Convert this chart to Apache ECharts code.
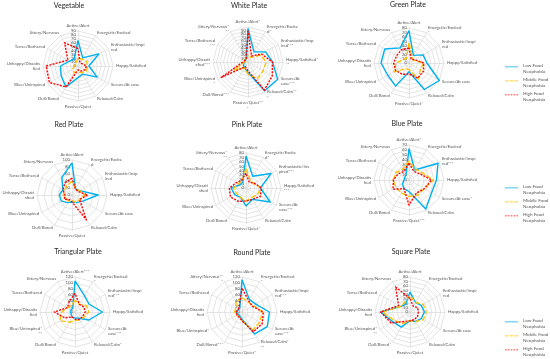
<!DOCTYPE html>
<html><head><meta charset="utf-8">
<script src="https://cdn.jsdelivr.net/npm/echarts@6/dist/echarts.min.js"></script>
<style>html,body{margin:0;padding:0;background:#fff}#c{width:550px;height:359px}</style>
</head><body><div id="c"></div><script>
const seriesNames = ['Low Food Neophobia', 'Middle Food Neophobia', 'High Food Neophobia'];
const chartTitles = ['Vegetable', 'White Plate', 'Green Plate', 'Red Plate', 'Pink Plate', 'Blue Plate', 'Triangular Plate', 'Round Plate', 'Square Plate'];
const axisMax = [90, 100, 80, 100, 80, 70, 120, 120, 80];
const axisStep = [10, 10, 10, 20, 10, 10, 20, 20, 10];

const vegetableAxes = ['Active/Alert', 'Energetic/Excited', 'Enthusiastic/Inspi\nred', 'Happy/Satisfied', 'Secure/At ease', 'Relaxed/Calm', 'Passive/Quiet', 'Dull/Bored', 'Blue/Uninspired', 'Unhappy/Dissatis\nfied', 'Tense/Bothered', 'Jittery/Nervous'];
const whiteAxes = ['Active/Alert*', 'Energetic/Excite\nd*', 'Enthusiastic/Insp\nired***', 'Happy/Satisfied*\n**', 'Secure/At\nease***', 'Relaxed/Calm**\n*', 'Passive/Quiet**\n*', 'Dull/Bored***', 'Blue/Uninspired\n*', 'Unhappy/Dissati\nsfied***', 'Tense/Bothered\n***', 'Jittery/Nervous*\n**'];
const greenAxes = ['Active/Alert', 'Energetic/Excited\n*', 'Enthusiastic/Inspi\nred', 'Happy/Satisfied', 'Secure/At ease', 'Relaxed/Calm', 'Passive/Quiet*', 'Dull/Bored', 'Blue/Uninspired', 'Unhappy/Dissatis\nfied', 'Tense/Bothered', 'Jittery/Nervous'];
const redAxes = ['Active/Alert', 'Energetic/Excite\nd', 'Enthusiastic/Insp\nired', 'Happy/Satisfied', 'Secure/At ease', 'Relaxed/Calm', 'Passive/Quiet', 'Dull/Bored', 'Blue/Uninspired', 'Unhappy/Dissati\nsfied', 'Tense/Bothered', 'Jittery/Nervous'];
const pinkAxes = ['Active/Alert', 'Energetic/Excite\nd*', 'Enthusiastic/Ins\npired***', 'Happy/Satisfied\n***', 'Secure/At\nease***', 'Relaxed/Calm', 'Passive/Quiet*', 'Dull/Bored', 'Blue/Uninspired', 'Unhappy/Dissati\nsfied', 'Tense/Bothered', 'Jittery/Nervous*\n**'];
const blueAxes = ['Active/Alert*', 'Energetic/Excited', 'Enthusiastic/Inspi\nred***', 'Happy/Satisfied', 'Secure/At ease*', 'Relaxed/Calm', 'Passive/Quiet***', 'Dull/Bored', 'Blue/Uninspired', 'Unhappy/Dissatis\nfied', 'Tense/Bothered', 'Jittery/Nervous'];
const triangularAxes = ['Active/Alert***', 'Energetic/Excited\n*', 'Enthusiastic/Inspi\nred***', 'Happy/Satisfied', 'Secure/At\nease***', 'Relaxed/Calm*', 'Passive/Quiet', 'Dull/Bored', 'Blue/Uninspired*\n**', 'Unhappy/Dissatis\nfied', 'Tense/Bothered', 'Jittery/Nervous'];
const roundAxes = ['Active/Alert', 'Energetic/Excited\n*', 'Enthusiastic/Inspi\nred***', 'Happy/Satisfied', 'Secure/At\nease***', 'Relaxed/Calm*\n**', 'Passive/Quiet*', 'Dull/Bored***', 'Blue/Uninspired*', 'Unhappy/Dissatis\nfied', 'Tense/Bothered', 'Jittery/Nervous**\n*'];
const squareAxes = ['Active/Alert', 'Energetic/Excited', 'Enthusiastic/Inspi\nred', 'Happy/Satisfied', 'Secure/At ease', 'Relaxed/Calm', 'Passive/Quiet', 'Dull/Bored*', 'Blue/Uninspired*\n**', 'Unhappy/Dissatis\nfied', 'Tense/Bothered', 'Jittery/Nervous'];

// values in clockwise axis order: Active, Energetic, Enthusiastic, Happy, Secure, Relaxed, Passive, Dull, Blue, Unhappy, Tense, Jittery
const vegetableLow = [66, 24, 62, 28, 57, 24, 30, 62, 50, 45, 25, 20];
const vegetableMiddle = [20, 20, 25, 25, 25, 20, 15, 20, 15, 10, 8, 10];
const vegetableHigh = [45, 10, 12, 22, 20, 15, 10, 62, 85, 82, 30, 69];
const whiteLow = [96, 34, 58, 70, 98, 95, 30, 20, 15, 10, 8, 10];
const whiteMiddle = [20, 15, 40, 52, 50, 55, 35, 20, 45, 10, 5, 10];
const whiteHigh = [90, 20, 45, 70, 80, 93, 25, 15, 88, 15, 10, 10];
const greenLow = [74, 20, 37, 41, 80, 70, 20, 61, 56, 64, 64, 40];
const greenMiddle = [46, 15, 12, 34, 30, 42, 15, 15, 40, 30, 15, 12];
const greenHigh = [34, 10, 15, 34, 38, 40, 25, 30, 35, 35, 33, 35];
const redLow = [92, 20, 25, 75, 35, 25, 20, 25, 35, 36, 30, 58];
const redMiddle = [40, 20, 25, 37, 25, 25, 15, 20, 20, 25, 25, 30];
const redHigh = [48, 20, 20, 45, 25, 82, 20, 15, 25, 20, 30, 40];
const pinkLow = [73, 31, 66, 33, 64, 30, 41, 25, 30, 34, 15, 15];
const pinkMiddle = [45, 20, 20, 35, 30, 25, 30, 25, 25, 28, 20, 18];
const pinkHigh = [34, 15, 22, 35, 38, 30, 30, 35, 41, 38, 25, 20];
const blueLow = [63, 23, 67, 55, 52, 67, 23, 20, 15, 10, 10, 12];
const blueMiddle = [38, 25, 30, 49, 35, 35, 33, 30, 30, 32, 30, 25];
const blueHigh = [33, 20, 25, 45, 35, 30, 50, 20, 37, 31, 25, 20];
const triangularLow = [107, 65, 55, 94, 55, 25, 20, 20, 15, 15, 15, 15];
const triangularMiddle = [40, 30, 45, 48, 35, 30, 30, 40, 60, 45, 30, 25];
const triangularHigh = [64, 30, 35, 35, 30, 30, 25, 20, 40, 71, 30, 40];
const roundLow = [111, 50, 54, 94, 100, 87, 25, 15, 15, 20, 15, 15];
const roundMiddle = [50, 40, 45, 70, 70, 72, 30, 20, 20, 25, 25, 40];
const roundHigh = [82, 45, 40, 73, 80, 78, 30, 20, 20, 20, 15, 20];
const squareLow = [46, 25, 30, 33, 30, 25, 20, 40, 45, 67, 25, 20];
const squareMiddle = [38, 25, 35, 37, 35, 25, 20, 30, 40, 63, 25, 25];
const squareHigh = [31, 15, 20, 19, 20, 20, 20, 25, 50, 67, 30, 66];

const charts = [
  {names: vegetableAxes, vals: [vegetableLow, vegetableMiddle, vegetableHigh]},
  {names: whiteAxes, vals: [whiteLow, whiteMiddle, whiteHigh]},
  {names: greenAxes, vals: [greenLow, greenMiddle, greenHigh]},
  {names: redAxes, vals: [redLow, redMiddle, redHigh]},
  {names: pinkAxes, vals: [pinkLow, pinkMiddle, pinkHigh]},
  {names: blueAxes, vals: [blueLow, blueMiddle, blueHigh]},
  {names: triangularAxes, vals: [triangularLow, triangularMiddle, triangularHigh]},
  {names: roundAxes, vals: [roundLow, roundMiddle, roundHigh]},
  {names: squareAxes, vals: [squareLow, squareMiddle, squareHigh]}
];

// ECharts places indicators counter-clockwise; reorder so they read clockwise
const cw = arr => [arr[0]].concat(arr.slice(1).reverse());

const layout = [
  {cx: 78, cy: 66, tx: 69, ty: 2}, {cx: 248, cy: 62, tx: 249, ty: 2}, {cx: 409, cy: 63, tx: 408, ty: 1},
  {cx: 72, cy: 195, tx: 69, ty: 121}, {cx: 246, cy: 188, tx: 247, ty: 121}, {cx: 409, cy: 180, tx: 407, ty: 120},
  {cx: 75, cy: 312, tx: 78, ty: 248}, {cx: 242, cy: 312, tx: 252, ty: 249}, {cx: 410, cy: 312, tx: 411, ty: 248}
];

const FONT = 'Lato';
const lineStyles = [
  {color: '#00B0F0', type: 'solid', width: 1.4},
  {color: '#FFC000', type: [5, 2], width: 1.4},
  {color: '#FF0000', type: [2, 1.3], width: 1.4}
];
const top0 = 'M0,0h0.05v0.05h-0.05z M0,11.95h0.05v0.05h-0.05z ';
const legendIcons = [
  'path://' + top0 + 'M0,2.3H24V3.7H0Z',
  'path://' + top0 + 'M0,2.3H7V3.7H0Z M9,2.3H15V3.7H9Z M17,2.3H24V3.7H17Z',
  'path://' + top0 + 'M0,2.3H3V3.7H0Z M5,2.3H8V3.7H5Z M10,2.3H13V3.7H10Z M15,2.3H18V3.7H15Z M20,2.3H23V3.7H20Z'
];

const option = {
  backgroundColor: '#fff',
  animation: false,
  color: lineStyles.map(s => s.color),
  title: chartTitles.map((t, i) => ({
    text: t, left: layout[i].tx, top: layout[i].ty, textAlign: 'center', padding: 0,
    textStyle: {fontFamily: FONT, fontSize: 7, fontWeight: 'normal', color: '#262626'}
  })),
  legend: [62, 183, 317].map(t => ({
    orient: 'vertical', left: 505, top: t, itemWidth: 13, itemHeight: 12, itemGap: 1,
    selectedMode: false, padding: 0,
    data: seriesNames.map((n, k) => ({name: n, icon: legendIcons[k], itemStyle: {color: lineStyles[k].color, borderWidth: 0}})),
    formatter: n => n.replace(' Neophobia', '\nNeophobia'),
    textStyle: {fontFamily: FONT, fontSize: 4.6, color: '#595959', lineHeight: 6.5}
  })),
  radar: charts.map((c, i) => ({
    center: [layout[i].cx, layout[i].cy], radius: 35, startAngle: 90,
    shape: 'polygon', splitNumber: axisMax[i] / axisStep[i],
    indicator: cw(c.names).map((n, k) => k === 0
      ? {name: n, min: 0, max: axisMax[i], axisLabel: {show: true}}
      : {name: n, min: 0, max: axisMax[i]}),
    nameGap: 3,
    axisName: {fontFamily: FONT, fontSize: 4.3, color: '#595959', lineHeight: 5.6},
    axisLine: {lineStyle: {color: '#D9D9D9', width: 0.7}},
    splitLine: {lineStyle: {color: '#D9D9D9', width: 0.7}},
    splitArea: {show: false},
    axisTick: {show: false},
    axisLabel: {show: false, fontFamily: FONT, fontSize: 4.3, color: '#595959', margin: 2}
  })),
  series: charts.map((c, i) => ({
    type: 'radar', radarIndex: i, symbol: 'none', silent: true,
    data: c.vals.map((v, k) => ({
      name: seriesNames[k], value: cw(v),
      lineStyle: lineStyles[k], itemStyle: {color: lineStyles[k].color}
    }))
  }))
};
const chart = echarts.init(document.getElementById('c'), null, {renderer: 'canvas'});
chart.setOption(option);
</script></body></html>
